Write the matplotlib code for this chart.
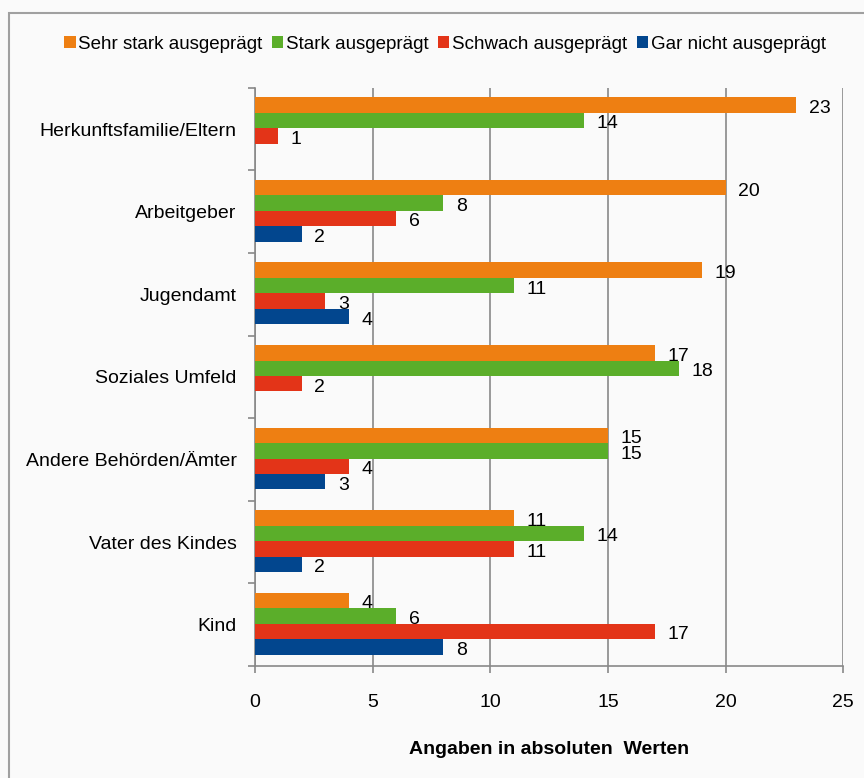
import numpy as np
import matplotlib.pyplot as plt
from matplotlib.patches import Rectangle

plt.rcParams['font.family'] = ['Liberation Sans', 'DejaVu Sans']

categories = ['Herkunftsfamilie/Eltern', 'Arbeitgeber', 'Jugendamt', 'Soziales Umfeld',
              'Andere Behörden/Ämter', 'Vater des Kindes', 'Kind']
series_names = ['Sehr stark ausgeprägt', 'Stark ausgeprägt', 'Schwach ausgeprägt', 'Gar nicht ausgeprägt']
sehr_stark = [23, 20, 19, 17, 15, 11, 4]
stark = [14, 8, 11, 18, 15, 14, 6]
schwach = [1, 6, 3, 2, 4, 11, 17]
gar_nicht = [0, 2, 4, 0, 3, 2, 8]
colors = ['#EE7F12', '#5BAE2A', '#E33418', '#02468E']


def make_plot():
    fig = plt.figure(figsize=(8.64, 7.78), dpi=100, facecolor='#FAFAFA')
    fig.patches.append(Rectangle((0.01, -0.01), 1.0, 0.993, transform=fig.transFigure,
                                 fill=False, edgecolor='#A0A0A0', linewidth=1.5))
    ax = fig.add_axes([0.295, 0.144, 0.681, 0.743])
    ax.set_facecolor('#FAFAFA')

    y = np.arange(len(categories))
    h = 0.187
    all_vals = [sehr_stark, stark, schwach, gar_nicht]
    for i, (vals, name, c) in enumerate(zip(all_vals, series_names, colors)):
        pos = y - 1.5 * h + i * h - 0.012
        ax.barh(pos, vals, height=h, color=c, label=name, zorder=3)
        for p, v in zip(pos, vals):
            if v == 0:
                continue
            ax.annotate(str(v), (v, p), xytext=(9, -2.5), textcoords='offset points',
                        ha='left', va='center', fontsize=14, color='black', zorder=4)

    ax.set_ylim(len(categories) - 0.5, -0.5)
    ax.set_xlim(0, 25)
    ax.set_xticks([0, 5, 10, 15, 20, 25])
    ax.set_yticks(y)
    ax.set_yticklabels(categories, fontsize=14)
    ax.set_yticks(np.arange(-0.5, len(categories), 1), minor=True)
    ax.tick_params(axis='y', which='major', length=0, pad=13)
    ax.tick_params(axis='y', which='minor', length=5, color='#888888', width=1.2)
    ax.tick_params(axis='x', length=5, color='#888888', width=1.2, labelsize=14, pad=15)
    ax.grid(axis='x', color='#888888', linewidth=1.2, zorder=0)
    for s in ['top', 'right']:
        ax.spines[s].set_visible(False)
    for s in ['left', 'bottom']:
        ax.spines[s].set_color('#888888')
        ax.spines[s].set_linewidth(1.2)

    ax.set_xlabel('Angaben in absoluten  Werten', fontsize=14, fontweight='bold', labelpad=22)

    fig.legend(loc='center', bbox_to_anchor=(0.515, 0.943), ncol=4, frameon=False,
               fontsize=13.5, handlelength=0.6, handleheight=0.6, handletextpad=0.15,
               columnspacing=0.5)

    fig.savefig('out.png', dpi=100, facecolor=fig.get_facecolor())


if __name__ == "__main__":
    make_plot()
